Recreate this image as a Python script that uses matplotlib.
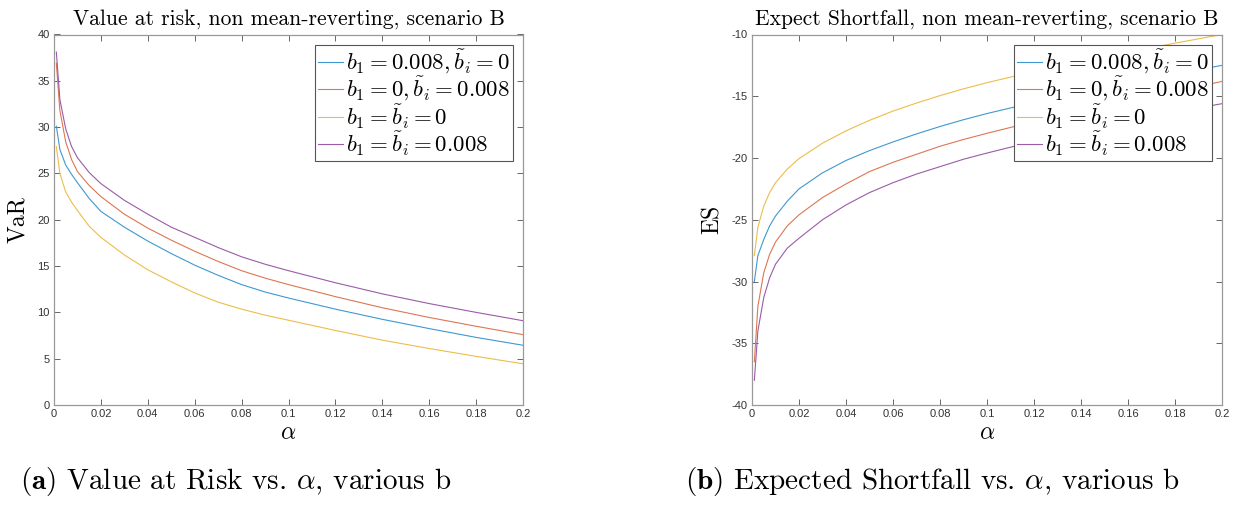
import matplotlib
matplotlib.use("Agg")
from matplotlib import pyplot as plt

plt.rcParams['mathtext.fontset'] = 'cm'
plt.rcParams['font.family'] = ['Liberation Sans', 'DejaVu Sans']
plt.rcParams['axes.unicode_minus'] = False

# alpha grid
alpha = [0.001, 0.0025, 0.005, 0.0075, 0.01, 0.015, 0.02, 0.03, 0.04, 0.05,
         0.06, 0.07, 0.08, 0.09, 0.1, 0.12, 0.14, 0.16, 0.18, 0.2]

# Value at risk
var_b1 = [30.1, 27.6, 25.9, 24.9, 24.0, 22.3, 20.9, 19.2, 17.7, 16.35,
          15.1, 14.0, 13.0, 12.2, 11.55, 10.35, 9.25, 8.25, 7.3, 6.45]
var_bi = [36.9, 31.8, 28.4, 26.5, 25.2, 23.7, 22.5, 20.6, 19.1, 17.8,
          16.6, 15.5, 14.5, 13.7, 13.0, 11.7, 10.5, 9.45, 8.5, 7.6]
var_zero = [27.9, 25.0, 23.0, 21.9, 21.0, 19.3, 18.1, 16.2, 14.6, 13.3,
            12.1, 11.1, 10.35, 9.7, 9.15, 8.05, 7.0, 6.1, 5.25, 4.45]
var_both = [38.1, 33.0, 29.8, 27.9, 26.7, 25.1, 23.9, 22.1, 20.6, 19.2,
            18.1, 17.0, 16.0, 15.2, 14.5, 13.2, 12.0, 10.95, 10.0, 9.1]

# Expected shortfall
es_b1 = [-30.0, -27.9, -26.6, -25.5, -24.7, -23.5, -22.5, -21.2, -20.2, -19.4,
         -18.7, -18.05, -17.45, -16.9, -16.4, -15.5, -14.7, -13.95, -13.2, -12.5]
es_bi = [-36.5, -32.0, -29.3, -27.8, -26.8, -25.5, -24.6, -23.2, -22.1, -21.1,
         -20.35, -19.7, -19.05, -18.5, -18.0, -17.05, -16.2, -15.4, -14.6, -13.8]
es_zero = [-27.9, -25.6, -23.9, -22.8, -22.0, -20.9, -20.05, -18.8, -17.8, -16.95,
           -16.2, -15.55, -14.95, -14.4, -13.9, -13.0, -12.2, -11.45, -10.7, -10.0]
es_both = [-38.0, -34.0, -31.3, -29.7, -28.6, -27.3, -26.5, -25.0, -23.8, -22.8,
           -22.0, -21.3, -20.7, -20.1, -19.6, -18.65, -17.8, -17.0, -16.3, -15.6]

labels = [r'$b_1 = 0.008, \tilde{b}_i = 0$',
          r'$b_1 = 0, \tilde{b}_i = 0.008$',
          r'$b_1 = \tilde{b}_i = 0$',
          r'$b_1 = \tilde{b}_i = 0.008$']
colors = ['#3f98cf', '#de7652', '#ecbd4a', '#9a5ca6']

x_ticks = [0, 0.02, 0.04, 0.06, 0.08, 0.1, 0.12, 0.14, 0.16, 0.18, 0.2]
x_ticklabels = ['0', '0.02', '0.04', '0.06', '0.08', '0.1', '0.12', '0.14', '0.16', '0.18', '0.2']

fig = plt.figure(figsize=(12.38, 5.07), dpi=100)
W, H = 1238, 507
ax1 = fig.add_axes([54 / W, 1 - 405 / H, 469 / W, 370.5 / H])
ax2 = fig.add_axes([752 / W, 1 - 405 / H, 470 / W, 370.5 / H])

axis_col = '#999999'
text_col = '#333333'


def style(ax):
    for s in ax.spines.values():
        s.set_color(axis_col)
        s.set_linewidth(0.9)
    ax.tick_params(direction='in', length=4, width=0.7, color='#666666',
                   labelsize=8, labelcolor=text_col, top=True, right=True, pad=3)
    ax.set_xlim(0, 0.2)
    ax.set_xticks(x_ticks)
    ax.set_xticklabels(x_ticklabels)


def legend(ax):
    leg = ax.legend(loc='upper right', fontsize=16.5, frameon=True, fancybox=False,
                    framealpha=1, edgecolor='#555555', handlelength=1.1,
                    handletextpad=0.12, labelspacing=-0.05, borderpad=0.12,
                    borderaxespad=0.45)
    leg.get_frame().set_linewidth(0.8)


for vals, c, lab in zip([var_b1, var_bi, var_zero, var_both], colors, labels):
    ax1.plot(alpha, vals, color=c, lw=0.8, label=lab)
style(ax1)
ax1.set_ylim(0, 40)
ax1.set_yticks(range(0, 41, 5))
ax1.set_title('Value at risk, non mean-reverting, scenario B', family='cmr10',
              fontsize=15.5, pad=7)
ax1.set_ylabel('VaR', family='cmr10', fontsize=17, labelpad=6)
ax1.set_xlabel(r'$\alpha$', fontsize=17, labelpad=2)
legend(ax1)

for vals, c, lab in zip([es_b1, es_bi, es_zero, es_both], colors, labels):
    ax2.plot(alpha, vals, color=c, lw=0.8, label=lab)
style(ax2)
ax2.set_ylim(-40, -10)
ax2.set_yticks(range(-40, -9, 5))
ax2.set_title('Expect Shortfall, non mean-reverting, scenario B', family='cmr10',
              fontsize=15.5, pad=7)
ax2.set_ylabel('ES', family='cmr10', fontsize=17, labelpad=6)
ax2.set_xlabel(r'$\alpha$', fontsize=17, labelpad=2)
legend(ax2)

fig.text(20 / W, 1 - 482 / H, r'$\mathbf{(a)}$ Value at Risk vs. $\alpha$, various b',
         family='cmr10', fontsize=21, va='center', ha='left')
fig.text(685 / W, 1 - 482 / H, r'$\mathbf{(b)}$ Expected Shortfall vs. $\alpha$, various b',
         family='cmr10', fontsize=21, va='center', ha='left')

fig.savefig('out.png', dpi=100)
